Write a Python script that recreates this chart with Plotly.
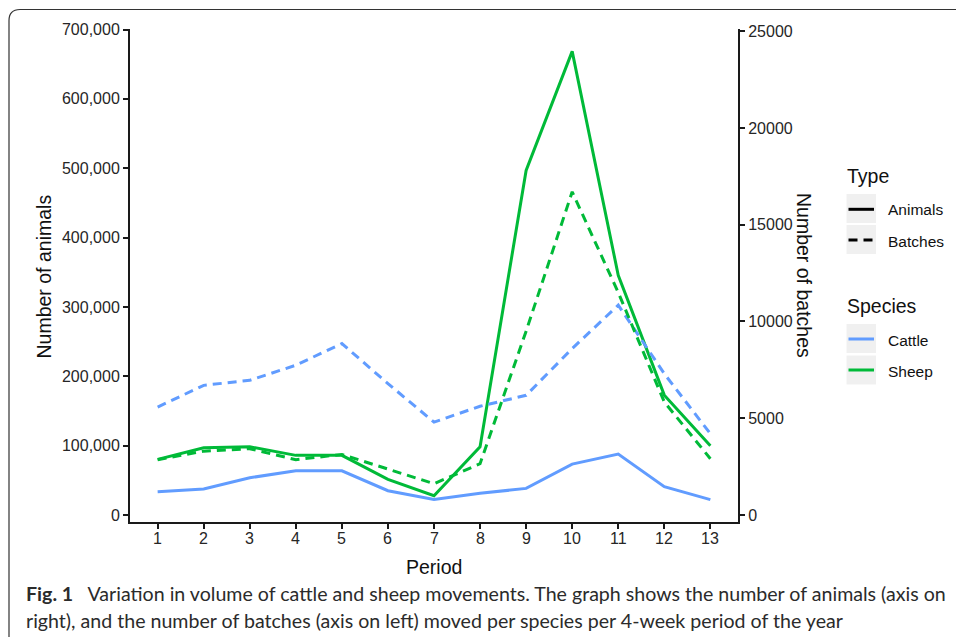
import plotly.graph_objects as go

# ---------------- data ----------------
periods = [1, 2, 3, 4, 5, 6, 7, 8, 9, 10, 11, 12, 13]
cattle_animals = [33600, 37400, 53700, 63800, 63800, 35000, 22500, 31200, 38400, 73400, 87800, 40800, 22200]
sheep_animals = [80200, 97000, 98400, 86000, 86000, 51400, 27800, 98400, 496800, 668500, 345600, 172800, 100000]
cattle_batches = [5580, 6700, 6960, 7740, 8860, 6790, 4800, 5620, 6185, 8600, 10845, 7300, 4200]
sheep_batches = [2857, 3300, 3425, 2857, 3130, 2390, 1615, 2650, 9500, 16700, 11500, 5840, 2910]

left_ticks = [0, 100000, 200000, 300000, 400000, 500000, 600000, 700000]
right_ticks = [0, 5000, 10000, 15000, 20000, 25000]

CATTLE = "#619CFF"
SHEEP = "#00BA38"
DASH = "9px,6px"

# ---------------- geometry (pixels) ----------------
W, H = 956, 637
L, R, T, B = 130, 218, 29, 115
PW = W - L - R
PH = H - T - B


def px(x):
    return (x - L) / PW


def py(y):
    return (H - B - y) / PH


fig = go.Figure()

fig.add_trace(go.Scatter(x=periods, y=cattle_animals, mode="lines", name="Cattle animals",
                         line=dict(color=CATTLE, width=3), yaxis="y"))
fig.add_trace(go.Scatter(x=periods, y=sheep_animals, mode="lines", name="Sheep animals",
                         line=dict(color=SHEEP, width=3), yaxis="y"))
fig.add_trace(go.Scatter(x=periods, y=cattle_batches, mode="lines", name="Cattle batches",
                         line=dict(color=CATTLE, width=3, dash=DASH), yaxis="y2"))
fig.add_trace(go.Scatter(x=periods, y=sheep_batches, mode="lines", name="Sheep batches",
                         line=dict(color=SHEEP, width=3, dash=DASH), yaxis="y2"))

AX = "#1a1a1a"
TICKFONT = dict(family="Liberation Sans, Arial, sans-serif", size=16, color="#262626")

fig.update_layout(
    width=W, height=H,
    margin=dict(l=L, r=R, t=T, b=B, pad=0),
    paper_bgcolor="white", plot_bgcolor="white",
    showlegend=False,
    xaxis=dict(range=[0.4, 13.6], tickvals=periods, ticks="outside", ticklen=5, tickwidth=1.5,
               tickcolor=AX, showline=True, linecolor=AX, linewidth=2, showgrid=False,
               zeroline=False, showticklabels=False),
    yaxis=dict(range=[-10090, 700720], tickvals=left_ticks, tickformat=",", ticks="outside",
               ticklen=5, tickwidth=1.5, tickcolor=AX, showline=True, linecolor=AX, linewidth=2,
               showgrid=False, zeroline=False, tickfont=TICKFONT),
    yaxis2=dict(range=[-362, 25115], tickvals=right_ticks, tickformat="d", overlaying="y",
                side="right", ticks="outside", ticklen=5, tickwidth=1.5, tickcolor=AX,
                showline=True, linecolor=AX, linewidth=2, showgrid=False, zeroline=False,
                tickfont=TICKFONT),
)

TITLEFONT = dict(family="Liberation Sans, Arial, sans-serif", size=19.5, color="#111")
LABFONT = dict(family="Liberation Sans, Arial, sans-serif", size=15.5, color="#111")

ann = []
# x tick labels (placed on the x data scale)
for p in periods:
    ann.append(dict(text=str(p), x=p, xref="x", y=py(538.5), yref="paper", showarrow=False,
                    font=TICKFONT, xanchor="center", yanchor="middle"))

ann.append(dict(text="Number of animals", x=px(43), y=py(276.5), xref="paper", yref="paper",
                textangle=-90, showarrow=False, font=TITLEFONT, xanchor="center", yanchor="middle"))
ann.append(dict(text="Number of batches", x=px(804), y=py(275), xref="paper", yref="paper",
                textangle=90, showarrow=False, font=TITLEFONT, xanchor="center", yanchor="middle"))
ann.append(dict(text="Period", x=px(434), y=py(567), xref="paper", yref="paper",
                showarrow=False, font=TITLEFONT, xanchor="center", yanchor="middle"))

# legend (manual)
ann.append(dict(text="Type", x=px(845), y=py(176), xref="paper", yref="paper", showarrow=False,
                font=TITLEFONT, xanchor="left", yanchor="middle"))
ann.append(dict(text="Species", x=px(845), y=py(306), xref="paper", yref="paper", showarrow=False,
                font=TITLEFONT, xanchor="left", yanchor="middle"))
for lab, yc in [("Animals", 209.5), ("Batches", 241), ("Cattle", 340), ("Sheep", 371)]:
    ann.append(dict(text=lab, x=px(885.5), y=py(yc), xref="paper", yref="paper", showarrow=False,
                    font=LABFONT, xanchor="left", yanchor="middle"))

# caption
CAPFONT = dict(family="Lato, Open Sans, sans-serif", size=19.6, color="#2b2b2b")
ann.append(dict(text="<b>Fig. 1</b>&nbsp;&nbsp; Variation in volume of cattle and sheep movements. "
                     "The graph shows the number of animals (axis on",
                x=px(23.5), y=py(593), xref="paper", yref="paper", showarrow=False,
                font=CAPFONT, xanchor="left", yanchor="middle"))
ann.append(dict(text="right), and the number of batches (axis on left) moved per species per 4-week period of the year",
                x=px(23.5), y=py(620), xref="paper", yref="paper", showarrow=False,
                font=CAPFONT, xanchor="left", yanchor="middle"))

shapes = []
KEYBG = "#f0f0f0"
for y0, y1 in [(194, 223), (225, 254), (324, 353), (355.5, 384.5)]:
    shapes.append(dict(type="rect", xref="paper", yref="paper", x0=px(846.5), x1=px(876),
                       y0=py(y1), y1=py(y0), fillcolor=KEYBG, line=dict(width=0), layer="below"))
shapes.append(dict(type="line", xref="paper", yref="paper", x0=px(848.5), x1=px(874),
                   y0=py(209.3), y1=py(209.3), line=dict(color="black", width=3)))
shapes.append(dict(type="line", xref="paper", yref="paper", x0=px(848.5), x1=px(874),
                   y0=py(240), y1=py(240), line=dict(color="black", width=3, dash=DASH)))
shapes.append(dict(type="line", xref="paper", yref="paper", x0=px(848.5), x1=px(874),
                   y0=py(339), y1=py(339), line=dict(color=CATTLE, width=3)))
shapes.append(dict(type="line", xref="paper", yref="paper", x0=px(848.5), x1=px(874),
                   y0=py(370), y1=py(370), line=dict(color=SHEEP, width=3)))

# outer rounded frame (figure box)
r = 11
x0, y0 = 9, 9.5
path = (f"M {px(x0)},{py(650)} L {px(x0)},{py(y0 + r)} "
        f"Q {px(x0)},{py(y0)} {px(x0 + r)},{py(y0)} L {px(970)},{py(y0)}")
shapes.append(dict(type="path", xref="paper", yref="paper", path=path,
                   line=dict(color="#333333", width=1.2)))

fig.update_layout(annotations=ann, shapes=shapes)

fig.write_html("out.html", config={"displayModeBar": False},
               post_script="document.body.style.margin='0';document.body.style.overflow='hidden';")
